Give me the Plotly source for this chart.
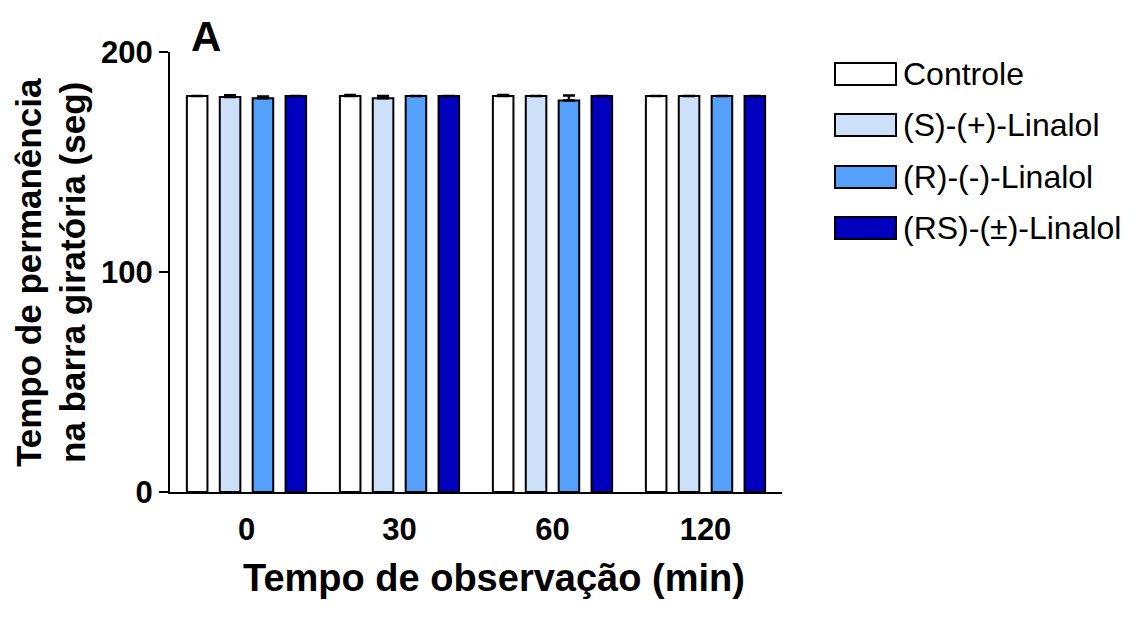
import plotly.graph_objects as go

categories = ["0", "30", "60", "120"]
series_names = ["Controle", "(S)-(+)-Linalol", "(R)-(-)-Linalol", "(RS)-(±)-Linalol"]
controle = [180, 180, 180, 180]
controle_err = [0, 0.4, 0.4, 0]
s_lin = [179.5, 179, 180, 180]
s_err = [0.8, 1.0, 0, 0]
r_lin = [179, 180, 178, 180]
r_err = [0.8, 0, 2.2, 0]
rs_lin = [180, 180, 180, 180]
rs_err = [0, 0, 0, 0]
colors = ["#FFFFFF", "#CCE0FA", "#55A0FA", "#0000BE"]
yticks = [0, 100, 200]
ytitle_lines = ["Tempo de permanência", "na barra giratória (seg)"]

values = [controle, s_lin, r_lin, rs_lin]
errs = [controle_err, s_err, r_err, rs_err]

FONT = "Liberation Sans, Arial, sans-serif"
L, T, PW, PH = 162, 44, 612, 440   # plot area (page offset of 8px accounted)

fig = go.Figure()
for name, vals, err, col in zip(series_names, values, errs, colors):
    fig.add_trace(go.Bar(
        x=categories, y=vals, name=name,
        marker=dict(color=col, line=dict(color="black", width=2)),
        error_y=dict(type="data", array=err, arrayminus=[0] * len(err), symmetric=False,
                     color="black", thickness=2.5, width=6),
        showlegend=False,
    ))

fig.update_layout(
    width=1143, height=621,
    margin=dict(l=L, r=1143 - L - PW, t=T, b=621 - T - PH),
    paper_bgcolor="white", plot_bgcolor="white",
    barmode="group", bargap=0.14, bargroupgap=0.375,
    font=dict(family=FONT, color="black"),
)
fig.update_xaxes(
    type="category", range=[-0.5, 3.5],
    showline=True, linecolor="black", linewidth=2,
    ticks="", showgrid=False, zeroline=False,
    tickfont=dict(size=31, family=FONT, weight="bold"),
    ticklabelstandoff=9,
)
fig.update_yaxes(
    range=[0, 200], tickvals=yticks,
    showline=True, linecolor="black", linewidth=2,
    ticks="outside", ticklen=9, tickwidth=2, tickcolor="black",
    showgrid=False, zeroline=False,
    tickfont=dict(size=31, family=FONT, weight="bold"),
)

def px_x(x):  # reference pixel -> paper x
    return (x - 170) / PW

def px_y(y):  # reference pixel -> paper y
    return 1 - (y - 52) / PH

# y-axis title (two lines)
for line, xc in zip(ytitle_lines, [28, 72]):
    fig.add_annotation(
        text="<b>" + line + "</b>",
        xref="paper", yref="paper", x=px_x(xc), y=px_y(273), xanchor="center", yanchor="middle",
        textangle=-90, showarrow=False, font=dict(size=35, family=FONT),
    )
# x-axis title
fig.add_annotation(
    text="<b>Tempo de observação (min)</b>",
    xref="paper", yref="paper", x=px_x(494), y=px_y(578), xanchor="center", yanchor="middle",
    showarrow=False, font=dict(size=38, family=FONT),
)
# panel label
fig.add_annotation(
    text="<b>A</b>", xref="paper", yref="paper", x=px_x(189), y=px_y(37),
    xanchor="left", yanchor="middle", showarrow=False, font=dict(size=42, family=FONT),
)

# manual legend
leg_x0, leg_x1 = 835, 896
leg_ys = [74, 125, 177, 228]
for name, col, yc in zip(series_names, colors, leg_ys):
    fig.add_shape(type="rect", xref="paper", yref="paper",
                  x0=px_x(leg_x0), x1=px_x(leg_x1), y0=px_y(yc + 11), y1=px_y(yc - 11),
                  fillcolor=col, line=dict(color="black", width=2))
    fig.add_annotation(text=name, xref="paper", yref="paper",
                       x=px_x(leg_x1 + 5), y=px_y(yc),
                       xanchor="left", yanchor="middle", showarrow=False,
                       font=dict(size=32, family=FONT))

fig.write_html("out.html")
